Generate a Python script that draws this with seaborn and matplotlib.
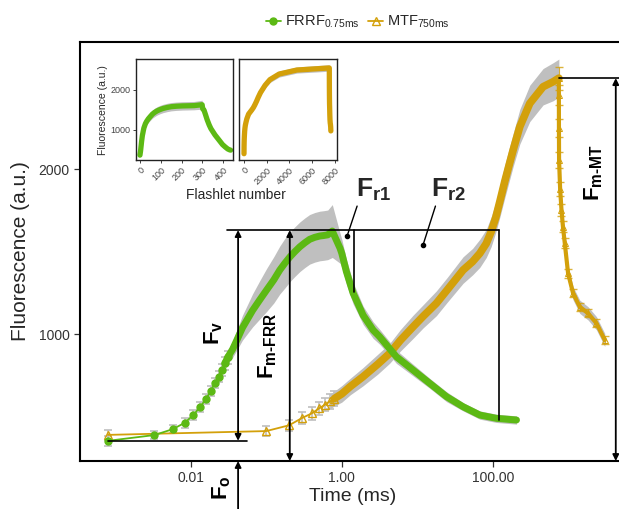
import numpy as np
import pandas as pd
import matplotlib.pyplot as plt
from matplotlib.lines import Line2D
from matplotlib.ticker import FixedLocator, NullLocator
import seaborn as sns

GREEN = "#5cb914"
GOLD = "#d3a00a"
GREY = "#bfbfbf"
HYPHEN = "\u2010"

# FRRF 0.75 ms protocol: flashlet number, time (ms), mean fluorescence, sd
frrf_flash = [0, 1, 2, 3, 4, 5, 6, 7, 8, 9, 10, 11, 12,
              14, 16, 19, 26, 32, 40, 50, 60, 70, 82, 95, 111, 130, 150, 175, 204, 230, 260, 299,
              302, 308, 315, 323, 333, 341, 346, 361, 373, 385, 397, 410, 422, 430, 436]
frrf_time = [0.0008, 0.0033, 0.0058, 0.0083, 0.0108, 0.0133, 0.0158, 0.0183, 0.0208, 0.0233, 0.0258, 0.0283, 0.0308,
             0.0358, 0.0408, 0.0483, 0.0658, 0.0808, 0.1008, 0.1258, 0.1508, 0.1758, 0.2058, 0.2383, 0.2783,
             0.3258, 0.3758, 0.4383, 0.5108, 0.5758, 0.6508, 0.7483,
             0.95, 1.0, 1.15, 1.41, 1.92, 2.6, 3.18, 5.3, 8.8, 14.6, 24.4, 40.5, 67.3, 112, 206]
frrf_value = [356, 391, 427, 465, 512, 562, 607, 657, 704, 744, 784, 825, 861,
              910, 966, 1040, 1145, 1205, 1268, 1330, 1389, 1430, 1469, 1500, 1530, 1555, 1575, 1587, 1595, 1598, 1602, 1625,
              1520, 1490, 1380, 1250, 1115, 1026, 985, 864, 784, 704, 623, 562, 512, 492, 482]
frrf_sd = [30, 25, 25, 30, 30, 30, 30, 30, 30, 35, 35, 40, 40,
           50, 60, 75, 100, 115, 130, 140, 145, 150, 150, 150, 150, 150, 150, 150, 150, 150, 150, 160,
           90, 85, 75, 65, 55, 50, 45, 40, 35, 30, 30, 25, 25, 25, 25]

# MTF 750 ms protocol
mtf_flash = [0, 1, 2, 3, 4, 5, 6, 7,
             8, 10, 13, 19, 30, 43, 60, 88, 120, 179, 250, 404, 540, 673, 820, 950, 1100, 1250, 1450,
             1860, 2280, 3090, 4640, 6290, 7500,
             7501, 7503, 7506, 7510, 7515, 7520, 7530, 7545, 7560, 7580, 7600, 7620, 7635]
mtf_time = [0.0008, 0.1, 0.2, 0.3, 0.4, 0.5, 0.6, 0.7,
            0.8, 1.0, 1.3, 1.9, 3.0, 4.3, 6.0, 8.8, 12, 17.9, 25, 40.4, 54, 67.3, 82, 95, 110, 125, 145,
            186, 228, 309, 464, 629, 750,
            750.5, 752, 755, 780, 813, 850, 899, 994, 1158, 1420, 1829, 2364, 3043]
mtf_value = [392, 415, 450, 495, 522, 552, 575, 595,
             612, 640, 685, 743, 820, 885, 965, 1046, 1110, 1188, 1270, 1389, 1440, 1490, 1550, 1620, 1710, 1810, 1930,
             2115, 2256, 2397, 2498, 2528, 2550,
             2450, 2250, 2054, 1880, 1752, 1650, 1551, 1369, 1248, 1167, 1127, 1067, 966]
mtf_sd = [30, 30, 35, 35, 40, 40, 40, 45,
          45, 50, 50, 55, 60, 60, 65, 70, 70, 75, 75, 80, 80, 85, 85, 90, 90, 95, 100,
          100, 105, 110, 110, 115, 115,
          100, 90, 80, 70, 60, 55, 50, 45, 40, 40, 40, 40, 40]

X_TICKS = [0.01, 1, 100]
X_TICK_LABELS = ["0.01", "1.00", "100.00"]
Y_TICKS = [1000, 2000]

sns.set_theme(style="ticks")
plt.rcParams["font.family"] = ["Liberation Sans", "DejaVu Sans"]
plt.rcParams["mathtext.fontset"] = "custom"
plt.rcParams["mathtext.rm"] = "Liberation Sans"
plt.rcParams["mathtext.bf"] = "Liberation Sans:bold"
plt.rcParams["mathtext.it"] = "Liberation Sans:italic"

frrf = pd.DataFrame({"flash": frrf_flash, "time": frrf_time, "value": frrf_value, "sd": frrf_sd})
mtf = pd.DataFrame({"flash": mtf_flash, "time": mtf_time, "value": mtf_value, "sd": mtf_sd})
YLIM = (234, 2768)


def draw_main(ax, df, color, marker, n_sparse, lw, mfc, ms, decay_from=None):
    sparse = df.iloc[:n_sparse]
    dense = df.iloc[n_sparse - 2:]
    ax.fill_between(dense["time"], dense["value"] - dense["sd"], dense["value"] + dense["sd"],
                    color=GREY, lw=0, zorder=1)
    ax.errorbar(sparse["time"], sparse["value"], yerr=sparse["sd"], fmt="none",
                ecolor=GREY, elinewidth=1.2, capsize=3, capthick=1.2, zorder=2)
    sns.lineplot(data=sparse, x="time", y="value", ax=ax, color=color, lw=1.3,
                 marker=marker, markersize=ms, markerfacecolor=mfc, markeredgecolor=color,
                 markeredgewidth=1.0, estimator=None, sort=False, zorder=3)
    if decay_from is None:
        sns.lineplot(data=dense, x="time", y="value", ax=ax, color=color, lw=lw,
                     estimator=None, sort=False, zorder=3,
                     solid_capstyle="round", solid_joinstyle="round")
    else:
        rise = df.iloc[n_sparse - 1:decay_from + 1]
        decay = df.iloc[decay_from:]
        sns.lineplot(data=rise, x="time", y="value", ax=ax, color=color, lw=lw,
                     estimator=None, sort=False, zorder=3,
                     solid_capstyle="round", solid_joinstyle="round")
        ax.errorbar(decay["time"], decay["value"], yerr=decay["sd"] * 0.6, fmt="none",
                    ecolor=color, elinewidth=0.8, capsize=3, alpha=0.8, zorder=2)
        sns.lineplot(data=decay, x="time", y="value", ax=ax, color=color, lw=3,
                     marker="^", markersize=4, markerfacecolor="none", markeredgecolor=color,
                     estimator=None, sort=False, zorder=3, solid_joinstyle="round")


fig = plt.figure(figsize=(6.19, 5.09), dpi=100)
ax = fig.add_axes([0.129, 0.0943, 0.882, 0.823])
ax.set_xscale("log")

draw_main(ax, mtf, GOLD, "^", 9, 5.5, "none", 6, decay_from=32)
draw_main(ax, frrf, GREEN, "o", 13, 5.0, GREEN, 5)

ax.set_xlim(3.39e-4, 5781)
ax.set_ylim(*YLIM)
ax.xaxis.set_major_locator(FixedLocator(X_TICKS))
ax.set_xticklabels(X_TICK_LABELS)
ax.xaxis.set_minor_locator(NullLocator())
ax.set_yticks(Y_TICKS)
ax.tick_params(axis="both", labelsize=10, colors="#333333", length=4, width=0.9, direction="out")
ax.set_xlabel("Time (ms)", fontsize=14, labelpad=2)
ax.set_ylabel("Fluorescence (a.u.)", fontsize=15, labelpad=6)
for s in ax.spines.values():
    s.set_color("black")
    s.set_linewidth(1.5)

# ---- annotations ----
fo = frrf_value[0]
fm_frr = max(frrf_value) + 6
fm_mt = max(mtf_value)
t_fv, t_fm, t_fr1, t_fr2, t_mt = 0.0423, 0.2046, 1.44, 120, 4256
ln = dict(color="black", lw=1.2, zorder=6)
arr = dict(arrowstyle="<|-|>", color="black", lw=1.3, mutation_scale=9, shrinkA=0, shrinkB=0)
arr1 = dict(arrowstyle="-|>", color="black", lw=1.3, mutation_scale=9, shrinkA=0, shrinkB=0)

ax.plot([frrf_time[0], 0.0547], [fo, fo], **ln)
ax.plot([0.0297, t_fr2], [fm_frr, fm_frr], **ln)
ax.plot([t_fr2, t_fr2], [fm_frr, 485], **ln)
ax.plot([t_fr1, t_fr1], [fm_frr, 1258], **ln)
ax.plot([750, 8000], [fm_mt, fm_mt], **ln)
ax.annotate("", xy=(t_fv, fo), xytext=(t_fv, fm_frr), arrowprops=arr, zorder=6)
ax.annotate("", xy=(t_fv, YLIM[0]), xytext=(t_fv, -60), arrowprops=arr1,
            annotation_clip=False, zorder=6)
ax.annotate("", xy=(t_fm, YLIM[0]), xytext=(t_fm, fm_frr), arrowprops=arr, zorder=6)
ax.annotate("", xy=(t_mt, YLIM[0]), xytext=(t_mt, fm_mt), arrowprops=arr, zorder=6)

ax.plot([1.595, 1.176], [1776, 1595], color="black", lw=1.0, zorder=6)
ax.plot([1.176], [1595], "o", color="black", ms=3, zorder=6)
ax.plot([17.4, 11.9], [1776, 1540], color="black", lw=1.0, zorder=6)
ax.plot([11.9], [1540], "o", color="black", ms=3, zorder=6)

lab = dict(fontsize=16, color="black", zorder=7)
ax.text(1.533, 1831, r"$\mathbf{F}_{\mathbf{r1}}$", ha="left", va="baseline", fontsize=19, zorder=7)
ax.text(15.4, 1831, r"$\mathbf{F}_{\mathbf{r2}}$", ha="left", va="baseline", fontsize=19, zorder=7)
ax.text(0.0202, 1008, r"$\mathbf{F}_{\mathbf{v}}$", rotation=90, ha="center", va="center", **lab)
ax.text(0.1047, 929, r"$\mathbf{F}_{\mathbf{m" + HYPHEN + r"FRR}}$", rotation=90,
        ha="center", va="center", **lab)
ax.text(2178, 1982, r"$\mathbf{F}_{\mathbf{m" + HYPHEN + r"MT}}$", rotation=90,
        ha="center", va="center", **lab)
ax.text(0.0258, 70, r"$\mathbf{F}_{\mathbf{o}}$", rotation=90, ha="center", va="center",
        clip_on=False, **lab)

# ---- legend ----
handles = [
    Line2D([], [], color=GREEN, lw=1.3, marker="o", ms=5, mec=GREEN),
    Line2D([], [], color=GOLD, lw=1.3, marker="^", ms=6, mfc="none", mec=GOLD),
]
fig.legend(handles, [r"FRRF$_{\mathrm{0.75ms}}$", r"MTF$_{\mathrm{750ms}}$"], loc="center",
           bbox_to_anchor=(358 / 619, 1 - 22 / 509), ncol=2, frameon=False, fontsize=10.5,
           handlelength=1.0, handletextpad=0.3, columnspacing=0.6)

# ---- inset: fluorescence vs flashlet number ----
ins1 = fig.add_axes([136 / 619, 1 - 160 / 509, 96.7 / 619, 100.7 / 509])
ins2 = fig.add_axes([239.3 / 619, 1 - 160 / 509, 97.4 / 619, 100.7 / 509])
for iax, df, color, xl, xt in [(ins1, frrf, GREEN, (-19, 446), [0, 100, 200, 300, 400]),
                               (ins2, mtf, GOLD, (-413, 8150), [0, 2000, 4000, 6000, 8000])]:
    iax.fill_between(df["flash"], df["value"] - df["sd"] * 0.7, df["value"] + df["sd"] * 0.7,
                     color=GREY, lw=0)
    sns.lineplot(data=df, x="flash", y="value", ax=iax, color=color, lw=3.8,
                 estimator=None, sort=False, solid_joinstyle="round")
    iax.set_xlim(*xl)
    iax.set_ylim(*YLIM)
    iax.set_xticks(xt)
    iax.set_yticks(Y_TICKS)
    iax.set_xlabel("")
    iax.set_ylabel("")
    iax.tick_params(axis="both", labelsize=6.5, colors="#444444", length=2.5, width=0.7, pad=1.5)
    for lbl in iax.get_xticklabels():
        lbl.set_rotation(45)
        lbl.set_ha("right")
        lbl.set_rotation_mode("anchor")
    for s in iax.spines.values():
        s.set_color("#222222")
        s.set_linewidth(1.0)
ins2.tick_params(axis="y", labelleft=False, length=0)
ins1.set_ylabel("Fluorescence (a.u.)", fontsize=7.5, labelpad=2)
fig.text(236 / 619, 1 - 195 / 509, "Flashlet number", ha="center", va="center", fontsize=10)

fig.savefig("out.png", dpi=100)
